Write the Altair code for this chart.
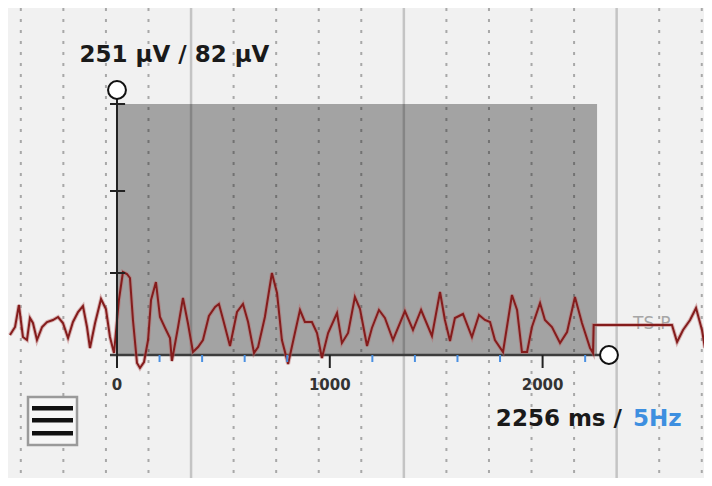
import altair as alt
import pandas as pd

# ---- data ----
signal_ms = [-503, -479, -461, -442, -423, -409, -395, -376, -352, -329, -301, -277, -254, -230,
             -207, -183, -160, -141, -127, -103, -75, -52, -33, -14, 9, 28, 47, 61, 75, 94, 108,
             127, 146, 160, 183, 202, 226, 249, 258, 287, 310, 334, 357, 381, 404, 432, 461, 479,
             498, 531, 564, 592, 616, 644, 663, 695, 728, 752, 775, 804, 836, 860, 883, 916, 940,
             963, 992, 1034, 1057, 1086, 1118, 1142, 1175, 1198, 1231, 1259, 1297, 1353, 1391,
             1429, 1480, 1518, 1541, 1565, 1588, 1626, 1668, 1701, 1729, 1753, 1776, 1814, 1856,
             1880, 1903, 1927, 1950, 1988, 2011, 2044, 2082, 2115, 2152, 2185, 2223, 2237, 2240,
             2608, 2632, 2660, 2693, 2721, 2749, 2763, 2787, 2796]
signal_uv = [20, 28, 50, 18, 15, 37, 32, 15, 28, 33, 35, 38, 32, 17,
             33, 43, 49, 28, 7, 32, 56, 46, 18, 2, 55, 83, 81, 77, 35, -8, -13,
             -7, 15, 55, 73, 38, 27, 17, -6, 28, 57, 31, 3, 8, 15, 39, 48, 51,
             36, 9, 43, 51, 33, 2, 8, 38, 82, 62, 15, -9, 22, 45, 33, 33, 22,
             -3, 22, 42, 12, 22, 58, 46, 9, 27, 45, 37, 15, 44, 25,
             45, 19, 63, 35, 14, 37, 41, 18, 40, 35, 33, 15, 3, 60,
             45, 3, 3, 28, 52, 35, 28, 12, 23, 58, 32, 7, 2, 30,
             30, 13, 25, 35, 47, 25, 7, 27, 30]

grid_minor_ms = [-452, -252, -52, 148, 548, 748, 948, 1148, 1548, 1748, 1948, 2148, 2548, 2748]
grid_major_ms = [348, 1348, 2348]
x_tick_ms = [0, 1000, 2000]
x_tick_labels = ["0", "1000", "2000"]
freq_tick_ms = [200, 400, 600, 800, 1200, 1400, 1600, 1800, 2200]
y_tick_uv = [82, 164, 251]
window_ms = 2256
window_uv = 251
amp_label = "251 µV / 82 µV"
dur_label = "2256 ms /"
freq_label = "5Hz"
channel_label = "TS-P"

X_DOM = [-512.2, 2758.5]
Y_DOM = [-123, 347]
W, H = 696, 470


def X(field, **kw):
    return alt.X(field, type="quantitative", scale=alt.Scale(domain=X_DOM, nice=False, zero=False), axis=None, **kw)


def Y(field, **kw):
    return alt.Y(field, type="quantitative", scale=alt.Scale(domain=Y_DOM, nice=False, zero=False), axis=None, **kw)


sig = pd.DataFrame({"t": signal_ms, "v": signal_uv})
minor = pd.DataFrame({"t": grid_minor_ms})
major = pd.DataFrame({"t": grid_major_ms})
win = pd.DataFrame({"t0": [0], "t1": [window_ms], "v0": [0], "v1": [window_uv]})

grid_minor = alt.Chart(minor).mark_rule(strokeDash=[3, 8], strokeWidth=2, color="#a8a8a8").encode(x=X("t"))
grid_major = alt.Chart(major).mark_rule(strokeWidth=2.5, color="#c4c4c4").encode(x=X("t"))

rect = alt.Chart(win).mark_rect(color="black", opacity=0.32).encode(
    x=X("t0"), x2="t1", y=Y("v0"), y2="v1")

chan = alt.Chart(pd.DataFrame({"t": [2425], "v": [31], "s": [channel_label]})).mark_text(
    align="left", baseline="middle", font="DejaVu Sans", fontSize=17, color="#a6a6a6"
).encode(x=X("t"), y=Y("v"), text="s:N")

halo = alt.Chart(sig).mark_line(color="#b86a6a", strokeWidth=4, opacity=0.45, clip=True).encode(x=X("t"), y=Y("v"))
line = alt.Chart(sig).mark_line(color="#841c1c", strokeWidth=2, clip=True).encode(x=X("t"), y=Y("v"))

axis_h = alt.Chart(pd.DataFrame({"a": [-33], "b": [2270], "v": [0]})).mark_rule(
    color="#3c3c3c", strokeWidth=2.5).encode(x=X("a"), x2="b", y=Y("v"))
axis_v = alt.Chart(pd.DataFrame({"t": [0], "a": [-13], "b": [256]})).mark_rule(
    color="#222222", strokeWidth=2).encode(x=X("t"), y=Y("a"), y2="b")
yt = pd.DataFrame({"v": y_tick_uv, "a": -33, "b": 38})
y_ticks = alt.Chart(yt).mark_rule(color="#222222", strokeWidth=2).encode(x=X("a"), x2="b", y=Y("v"))

ft = pd.DataFrame({"t": freq_tick_ms, "a": 0, "b": -7})
freq_ticks = alt.Chart(ft).mark_rule(color="#4a90e2", strokeWidth=2).encode(x=X("t"), y=Y("a"), y2="b")
xt = pd.DataFrame({"t": x_tick_ms, "a": 0, "b": -13, "lab": x_tick_labels, "lv": -30})
x_ticks = alt.Chart(xt).mark_rule(color="#222222", strokeWidth=2).encode(x=X("t"), y=Y("a"), y2="b")
x_labels = alt.Chart(xt).mark_text(
    align="center", baseline="middle", font="DejaVu Sans", fontWeight="bold", fontSize=15, color="#333333"
).encode(x=X("t"), y=Y("lv"), text="lab:N")

circ = alt.Chart(pd.DataFrame({"t": [0, 2312], "v": [265, 0]})).mark_point(
    shape="circle", filled=True, fill="white", stroke="#111111", strokeWidth=2, size=320, opacity=1
).encode(x=X("t"), y=Y("v"))

amp = alt.Chart(pd.DataFrame({"t": [270], "v": [300], "s": [amp_label]})).mark_text(
    align="center", baseline="middle", font="DejaVu Sans", fontWeight="bold", fontSize=23, color="#1a1a1a"
).encode(x=X("t"), y=Y("v"), text="s:N")
dur = alt.Chart(pd.DataFrame({"t": [2373], "v": [-64], "s": [dur_label]})).mark_text(
    align="right", baseline="middle", font="DejaVu Sans", fontWeight="bold", fontSize=23, color="#1a1a1a"
).encode(x=X("t"), y=Y("v"), text="s:N")
frq = alt.Chart(pd.DataFrame({"t": [2425], "v": [-64], "s": [freq_label]})).mark_text(
    align="left", baseline="middle", font="DejaVu Sans", fontWeight="bold", fontSize=23, color="#3d8fe0"
).encode(x=X("t"), y=Y("v"), text="s:N")

# menu icon (UI decoration)
one = pd.DataFrame({"k": [0]})
box = alt.Chart(one).mark_rect(fill="#f6f6f6", stroke="#9a9a9a", strokeWidth=2.5).encode(
    x=alt.value(20), x2=alt.value(69), y=alt.value(389), y2=alt.value(437))
bars = [alt.Chart(one).mark_rect(color="#111111").encode(
    x=alt.value(24), x2=alt.value(65), y=alt.value(yy), y2=alt.value(yy + 4.5)) for yy in (398, 410, 423)]

chart = alt.layer(
    grid_minor, grid_major, rect, chan, axis_h, halo, line, axis_v, y_ticks, freq_ticks, x_ticks, x_labels,
    circ, amp, dur, frq, box, *bars
).properties(width=W, height=H, padding=0, autosize="none", background="#f1f1f1").configure_view(strokeWidth=0)

chart.save("out.html", embed_options={"renderer": "svg", "actions": False})
